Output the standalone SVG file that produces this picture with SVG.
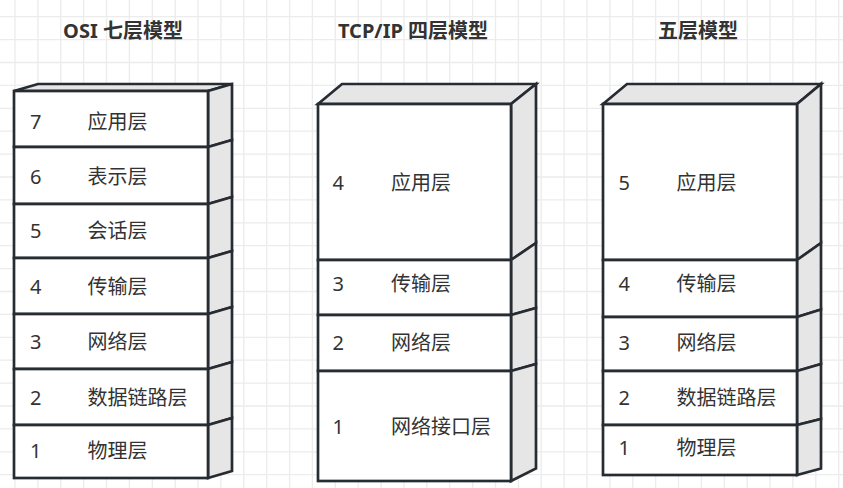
<svg xmlns="http://www.w3.org/2000/svg" width="843" height="488" viewBox="0 0 843 488">
  <style>
    .grid { stroke: #ececec; stroke-width: 1.3; fill: none; }
    .front { fill: #ffffff; stroke: #262c32; stroke-width: 2.7; stroke-linejoin: miter; }
    .shade { fill: #e6e6e6; stroke: #262c32; stroke-width: 2.7; stroke-linejoin: miter; }
    .title { font-family: "Noto Sans", "Noto Sans CJK SC", sans-serif; font-size: 20px; font-weight: bold; fill: #333333; text-anchor: middle; }
    .num, .name { font-family: "Noto Sans", "Noto Sans CJK SC", sans-serif; font-size: 20px; fill: #333333; }
  </style>

  <!-- background grid -->
  <rect width="843" height="488" fill="#ffffff"/>
  <path class="grid" d="M15 0V488M37.9 0V488M60.8 0V488M83.6 0V488M106.5 0V488M129.4 0V488M152.3 0V488M175.2 0V488M198 0V488M220.9 0V488M243.8 0V488M266.7 0V488M289.6 0V488M312.4 0V488M335.3 0V488M358.2 0V488M381.1 0V488M404 0V488M426.8 0V488M449.7 0V488M472.6 0V488M495.5 0V488M518.4 0V488M541.2 0V488M564.1 0V488M587 0V488M609.9 0V488M632.8 0V488M655.6 0V488M678.5 0V488M701.4 0V488M724.3 0V488M747.2 0V488M770 0V488M792.9 0V488M815.8 0V488M838.7 0V488
    M0 16.7H843M0 39.6H843M0 62.5H843M0 85.4H843M0 108.3H843M0 131.2H843M0 154.1H843M0 177H843M0 199.9H843M0 222.8H843M0 245.7H843M0 268.6H843M0 291.5H843M0 314.4H843M0 337.3H843M0 360.2H843M0 383.1H843M0 406H843M0 428.9H843M0 451.8H843M0 474.7H843"/>

  <!-- OSI seven-layer model -->
  <g id="osi">
    <text class="title" x="123" y="37.5">OSI 七层模型</text>
    <polygon class="shade" points="14,91 38,84 232,84 208,91"/>
    <g id="osi-7">
      <polygon class="shade" points="208,91 232,84 232,140 208,147"/>
      <rect class="front" x="14" y="91" width="194" height="56"/>
      <text class="num" x="30" y="129">7</text><text class="name" x="87.5" y="129">应用层</text>
    </g>
    <g id="osi-6">
      <polygon class="shade" points="208,147 232,140 232,197 208,204"/>
      <rect class="front" x="14" y="147" width="194" height="57"/>
      <text class="num" x="30" y="184">6</text><text class="name" x="87.5" y="184">表示层</text>
    </g>
    <g id="osi-5">
      <polygon class="shade" points="208,204 232,197 232,251 208,258"/>
      <rect class="front" x="14" y="204" width="194" height="54"/>
      <text class="num" x="30" y="238">5</text><text class="name" x="87.5" y="238">会话层</text>
    </g>
    <g id="osi-4">
      <polygon class="shade" points="208,258 232,251 232,307 208,314"/>
      <rect class="front" x="14" y="258" width="194" height="56"/>
      <text class="num" x="30" y="294">4</text><text class="name" x="87.5" y="294">传输层</text>
    </g>
    <g id="osi-3">
      <polygon class="shade" points="208,314 232,307 232,362 208,369"/>
      <rect class="front" x="14" y="314" width="194" height="55"/>
      <text class="num" x="30" y="349">3</text><text class="name" x="87.5" y="349">网络层</text>
    </g>
    <g id="osi-2">
      <polygon class="shade" points="208,369 232,362 232,418 208,425"/>
      <rect class="front" x="14" y="369" width="194" height="56"/>
      <text class="num" x="30" y="405">2</text><text class="name" x="87.5" y="405">数据链路层</text>
    </g>
    <g id="osi-1">
      <polygon class="shade" points="208,425 232,418 232,471 208,478"/>
      <rect class="front" x="14" y="425" width="194" height="53"/>
      <text class="num" x="30" y="458">1</text><text class="name" x="87.5" y="458">物理层</text>
    </g>
  </g>

  <!-- TCP/IP four-layer model -->
  <g id="tcpip">
    <text class="title" x="413" y="37.5">TCP/IP 四层模型</text>
    <polygon class="shade" points="318,104 342,84 536,84 511,104"/>
    <g id="tcpip-4">
      <polygon class="shade" points="511,104 536,84 536,243 511,260"/>
      <rect class="front" x="318" y="104" width="193" height="156"/>
      <text class="num" x="332.5" y="190">4</text><text class="name" x="391" y="190">应用层</text>
    </g>
    <g id="tcpip-3">
      <polygon class="shade" points="511,260 536,243 536,308 511,315"/>
      <rect class="front" x="318" y="260" width="193" height="55"/>
      <text class="num" x="332.5" y="291">3</text><text class="name" x="391" y="291">传输层</text>
    </g>
    <g id="tcpip-2">
      <polygon class="shade" points="511,315 536,308 536,364 511,371"/>
      <rect class="front" x="318" y="315" width="193" height="56"/>
      <text class="num" x="332.5" y="350">2</text><text class="name" x="391" y="350">网络层</text>
    </g>
    <g id="tcpip-1">
      <polygon class="shade" points="511,371 536,364 536,468.5 511,481"/>
      <rect class="front" x="318" y="371" width="193" height="110"/>
      <text class="num" x="332.5" y="434">1</text><text class="name" x="391" y="434">网络接口层</text>
    </g>
  </g>

  <!-- Five-layer model -->
  <g id="five">
    <text class="title" x="698" y="37.5">五层模型</text>
    <polygon class="shade" points="603,104 627,84 821,84 797,104"/>
    <g id="five-5">
      <polygon class="shade" points="797,104 821,84 821,243 797,260"/>
      <rect class="front" x="603" y="104" width="194" height="156"/>
      <text class="num" x="618.5" y="190">5</text><text class="name" x="676.5" y="190">应用层</text>
    </g>
    <g id="five-4">
      <polygon class="shade" points="797,260 821,243 821,309.5 797,317"/>
      <rect class="front" x="603" y="260" width="194" height="57"/>
      <text class="num" x="618.5" y="291">4</text><text class="name" x="676.5" y="291">传输层</text>
    </g>
    <g id="five-3">
      <polygon class="shade" points="797,317 821,309.5 821,364 797,371"/>
      <rect class="front" x="603" y="317" width="194" height="54"/>
      <text class="num" x="618.5" y="350">3</text><text class="name" x="676.5" y="350">网络层</text>
    </g>
    <g id="five-2">
      <polygon class="shade" points="797,371 821,364 821,419 797,425"/>
      <rect class="front" x="603" y="371" width="194" height="54"/>
      <text class="num" x="618.5" y="405">2</text><text class="name" x="676.5" y="405">数据链路层</text>
    </g>
    <g id="five-1">
      <polygon class="shade" points="797,425 821,419 821,468.5 797,475"/>
      <rect class="front" x="603" y="425" width="194" height="50"/>
      <text class="num" x="618.5" y="455">1</text><text class="name" x="676.5" y="455">物理层</text>
    </g>
  </g>
</svg>
